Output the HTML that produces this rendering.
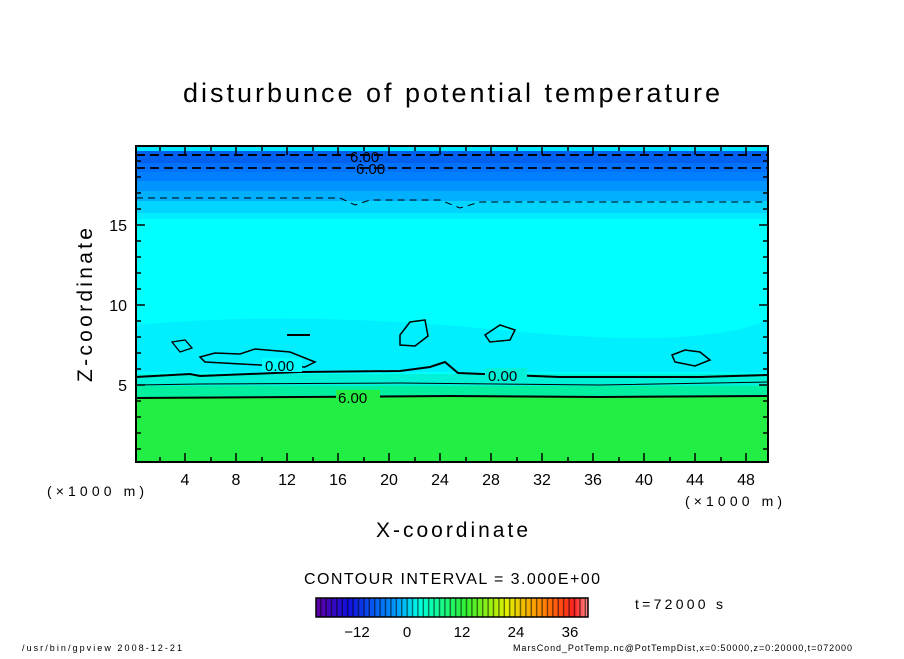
<!DOCTYPE html>
<html><head><meta charset="utf-8"><style>
body{margin:0;background:#fff;}
svg text{font-family:"Liberation Sans",sans-serif;fill:#000;}
</style></head><body>
<svg width="904" height="654" viewBox="0 0 904 654" xmlns="http://www.w3.org/2000/svg">
<rect width="904" height="654" fill="#fff"/>
<text x="183" y="102" font-size="27" textLength="537" lengthAdjust="spacing">disturbunce of potential temperature</text>
<g>
<rect x="136" y="146" width="632" height="316" fill="#00ffff"/>
<rect x="136" y="146" width="632" height="5" fill="#00e8ff"/>
<rect x="136" y="151" width="632" height="12" fill="#0060f0"/>
<rect x="136" y="163" width="632" height="9" fill="#0070ff"/>
<rect x="136" y="172" width="632" height="9" fill="#0080ff"/>
<rect x="136" y="181" width="632" height="10" fill="#0094ff"/>
<rect x="136" y="191" width="632" height="10" fill="#00b0ff"/>
<rect x="136" y="201" width="632" height="12" fill="#00d4ff"/>
<rect x="136" y="213" width="632" height="6" fill="#00ecff"/>
<path d="M136 325 Q300 310 500 330 T768 320 L768 372 L136 372Z" fill="#00e4ff" opacity="0.6"/>
<rect x="136" y="374" width="632" height="12" fill="#00f0d8"/>
<rect x="136" y="386" width="632" height="11" fill="#00f0a0"/>
<rect x="136" y="397" width="632" height="65" fill="#22ee44"/>
</g>
<g fill="none" stroke="#000">
<path d="M136 155 H768" stroke-width="2" stroke-dasharray="9,5"/>
<path d="M136 168 H768" stroke-width="1.8" stroke-dasharray="9,5"/>
<path d="M136 198 H340 L355 205 L370 200 H440 L460 208 L480 202 H768" stroke-width="1" stroke-dasharray="7,5"/>
<path d="M136 377 L190 374 L200 376 L300 372 L400 371 L430 367 L445 362 L458 373 L560 377 L700 377 L768 375" stroke-width="2"/>
<path d="M136 385 L200 384 L400 383 L600 385 L768 382" stroke-width="1"/>
<path d="M136 398 L300 397 L450 396 L600 397 L768 396" stroke-width="2"/>
<path d="M200 357 L215 353 L240 354 L255 349 L290 352 L315 362 L305 367 L260 365 L205 362Z" stroke-width="1.5"/>
<path d="M400 335 L410 322 L425 320 L428 336 L415 346 L400 345Z" stroke-width="1.5"/>
<path d="M485 335 L500 325 L515 330 L510 340 L490 342Z" stroke-width="1.5"/>
<path d="M672 355 L685 350 L700 352 L710 360 L695 366 L675 362Z" stroke-width="1.5"/>
<path d="M172 342 L185 340 L192 348 L180 352Z" stroke-width="1.3"/>
<path d="M287 335 H310" stroke-width="2"/>
</g>
<text x="350" y="162" font-size="15">6.00</text>
<text x="356" y="174" font-size="15">6.00</text>
<rect x="262" y="358" width="40" height="14" fill="#00ffff"/>
<text x="265" y="371" font-size="15">0.00</text>
<rect x="485" y="368" width="42" height="14" fill="#00f0d8"/>
<text x="488" y="381" font-size="15">0.00</text>
<rect x="336" y="390" width="44" height="14" fill="#22ee44"/>
<text x="338" y="403" font-size="15">6.00</text>
<g stroke="#000" stroke-width="2" fill="none">
<rect x="136" y="146" width="632" height="316"/>
</g>
<g stroke="#000" stroke-width="1.5">
<path d="M160 462v-5M185 462v-9M211 462v-5M236 462v-9M262 462v-5M287 462v-9M313 462v-5M338 462v-9M364 462v-5M389 462v-9M415 462v-5M440 462v-9M466 462v-5M491 462v-9M517 462v-5M542 462v-9M568 462v-5M593 462v-9M619 462v-5M644 462v-9M670 462v-5M695 462v-9M721 462v-5M746 462v-9"/>
<path d="M160 146v5M185 146v9M211 146v5M236 146v9M262 146v5M287 146v9M313 146v5M338 146v9M364 146v5M389 146v9M415 146v5M440 146v9M466 146v5M491 146v9M517 146v5M542 146v9M568 146v5M593 146v9M619 146v5M644 146v9M670 146v5M695 146v9M721 146v5M746 146v9"/>
<path d="M136 449h5M136 433h5M136 417h5M136 401h5M136 385h9M136 369h5M136 353h5M136 337h5M136 321h5M136 305h9M136 289h5M136 273h5M136 257h5M136 241h5M136 225h9M136 209h5M136 193h5M136 177h5M136 161h5"/>
<path d="M768 449h-5M768 433h-5M768 417h-5M768 401h-5M768 385h-9M768 369h-5M768 353h-5M768 337h-5M768 321h-5M768 305h-9M768 289h-5M768 273h-5M768 257h-5M768 241h-5M768 225h-9M768 209h-5M768 193h-5M768 177h-5M768 161h-5"/>
</g>
<g font-size="16" text-anchor="middle">
<text x="185" y="485">4</text><text x="236" y="485">8</text><text x="287" y="485">12</text><text x="338" y="485">16</text><text x="389" y="485">20</text><text x="440" y="485">24</text><text x="491" y="485">28</text><text x="542" y="485">32</text><text x="593" y="485">36</text><text x="644" y="485">40</text><text x="695" y="485">44</text><text x="746" y="485">48</text>
</g>
<g font-size="16" text-anchor="end">
<text x="127" y="391">5</text><text x="127" y="311">10</text><text x="127" y="231">15</text>
</g>
<text x="47" y="496" font-size="14" textLength="97">(×1000 m)</text>
<text x="685" y="506" font-size="14" textLength="97">(×1000 m)</text>
<text x="376" y="537" font-size="21" textLength="152">X-coordinate</text>
<text transform="translate(92 382) rotate(-90)" font-size="21" textLength="154">Z-coordinate</text>
<text x="304" y="584" font-size="16" textLength="296">CONTOUR INTERVAL = 3.000E+00</text>
<defs><linearGradient id="cb" x1="0" x2="1">
<stop offset="0" stop-color="#6000a0"/><stop offset="0.12" stop-color="#1010e0"/><stop offset="0.3" stop-color="#00a0ff"/><stop offset="0.38" stop-color="#00ffe0"/><stop offset="0.55" stop-color="#30f030"/><stop offset="0.7" stop-color="#e0f000"/><stop offset="0.82" stop-color="#ff9000"/><stop offset="0.95" stop-color="#ff2020"/><stop offset="1" stop-color="#ff9090"/>
</linearGradient>
<pattern id="st" width="5.4" height="20" patternUnits="userSpaceOnUse" x="316"><rect x="4" width="1.4" height="20" fill="#000" opacity="0.55"/></pattern></defs>
<rect x="316" y="598" width="272" height="19" fill="url(#cb)"/>
<rect x="316" y="598" width="272" height="19" fill="url(#st)"/>
<rect x="316" y="598" width="272" height="19" fill="none" stroke="#000" stroke-width="1.5"/>
<g font-size="15" text-anchor="middle">
<text x="357" y="637">−12</text><text x="407" y="637">0</text><text x="462" y="637">12</text><text x="516" y="637">24</text><text x="570" y="637">36</text>
</g>
<text x="635" y="609" font-size="14" textLength="88">t=72000 s</text>
<text x="22" y="651" font-size="9" textLength="160">/usr/bin/gpview   2008-12-21</text>
<text x="513" y="651" font-size="9" textLength="339">MarsCond_PotTemp.nc@PotTempDist,x=0:50000,z=0:20000,t=072000</text>
</svg>
</body></html>
